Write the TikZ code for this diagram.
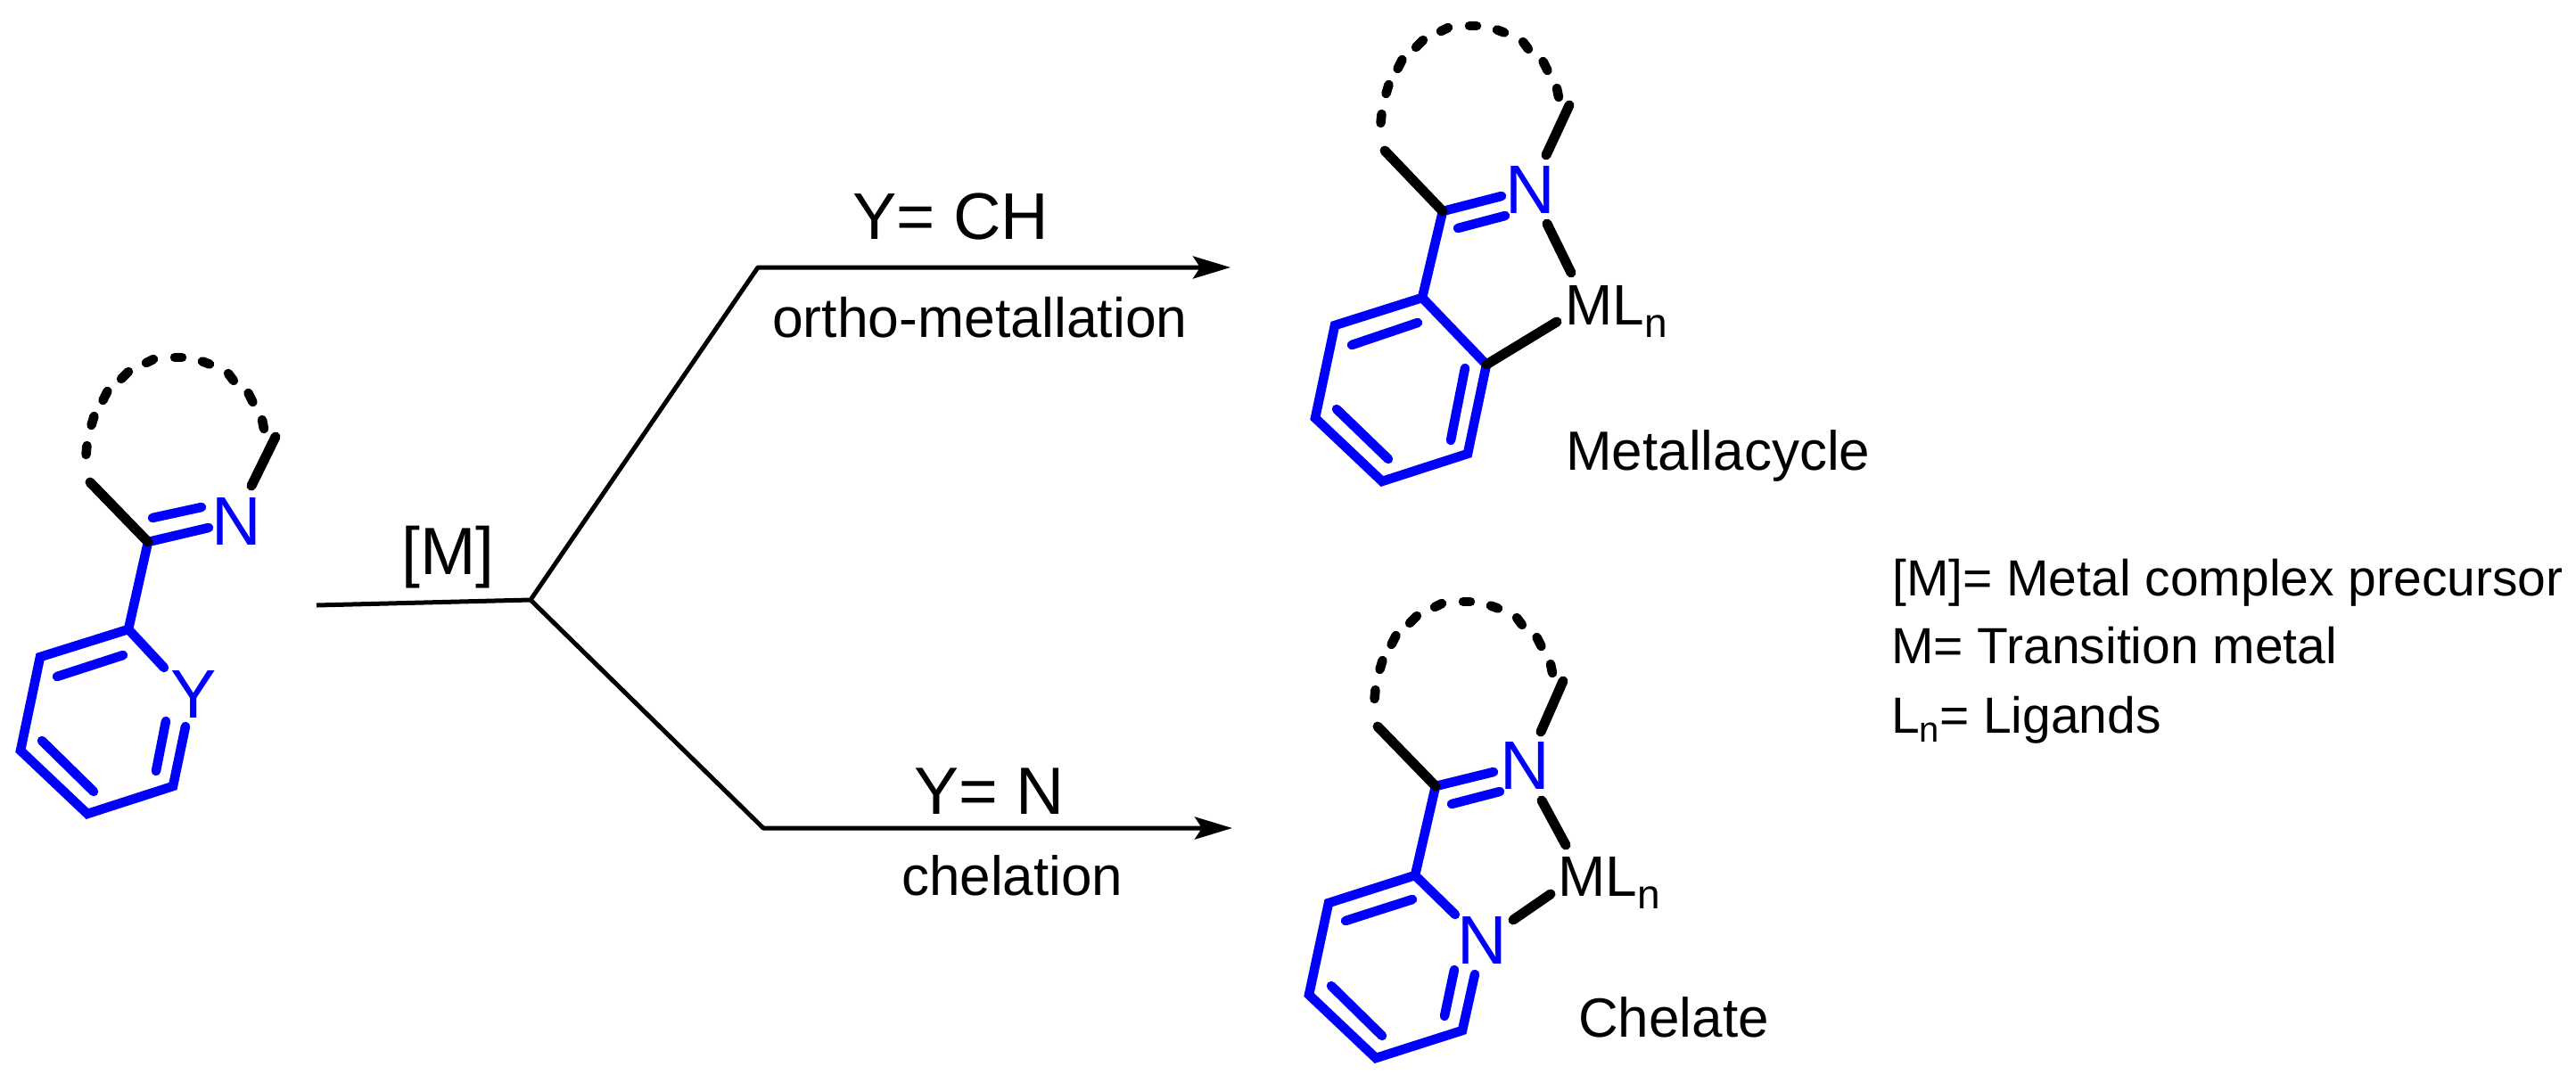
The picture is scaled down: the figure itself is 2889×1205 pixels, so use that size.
\documentclass[tikz,border=0pt]{standalone}
\usepackage{fontspec}
\setmainfont{Liberation Sans}
\usetikzlibrary{arrows.meta}
\newcommand{\fs}[1]{\fontsize{#1}{#1}\selectfont}
\newcommand{\mln}{ML\raisebox{-14pt}{\fs{46}n}}
\tikzset{
  bondblue/.style={draw=blue,line width=10.5pt,line cap=round,line join=miter},
  bondblack/.style={draw=black,line width=11pt,line cap=round},
  dotbit/.style={draw=black,line width=10.5pt,line cap=round},
  rxn/.style={draw=black,line width=5pt},
  rxnarrow/.style={rxn,-{Stealth[length=42pt,width=25pt,inset=8pt]}},
  atomblue/.style={text=blue,font=\fs{77},inner sep=0pt,anchor=center},
  lab/.style={inner sep=0pt,anchor=base west,text=black},
  pics/dotarc/.style={code={
    \draw[dotbit] (97.5,500)--(96.5,510);
    \draw[dotbit] (105.5,467)--(102.5,477);
    \draw[dotbit] (120.5,439)--(115.5,449);
    \draw[dotbit] (144,417)--(136,425);
    \draw[dotbit] (172,403)--(164,407);
    \draw[dotbit] (196,401)--(204,401);
    \draw[dotbit] (227,405.5)--(235,408.5);
    \draw[dotbit] (256,419)--(262,427);
    \draw[dotbit] (278.5,441)--(283.5,451);
    \draw[dotbit] (294,471)--(296,481);
  }}
}
\begin{document}
\begin{tikzpicture}[x=1pt,y=-1pt]
\useasboundingbox (0,0) rectangle (2889,1205);
% ---------- reaction lines
\coordinate (start) at (355,679);
\coordinate (fork) at (595,673);
\coordinate (upc) at (850,300);
\coordinate (uptip) at (1380,300);
\coordinate (loc) at (856,929);
\coordinate (lotip) at (1382,929);
\draw[rxn] (start)--(fork);
\draw[rxnarrow,line join=round] (fork)--(upc)--(uptip);
\draw[rxnarrow,line join=round] (fork)--(loc)--(lotip);
\node[lab,font=\fs{75}] (lm) at (450,644) {[M]};
\node[lab,font=\fs{74}] (ych) at (956,268) {Y= CH};
\node[lab,font=\fs{62.5}] (ortho) at (866,378) {ortho-metallation};
\node[lab,font=\fs{75}] (yn) at (1025,913) {Y= N};
\node[lab,font=\fs{62}] (chel) at (1011,1004) {chelation};
% ---------- starting material
\path (166,608) coordinate (aC) (101,541) coordinate (aT1) (309,490) coordinate (aT2)
  (282,545) coordinate (aN1) (234,592) coordinate (aD1) (171,581) coordinate (aD2) (226,569) coordinate (aD3)
  (144,706) coordinate (a1) (45,737) coordinate (a2) (23,842) coordinate (a3) (98,913) coordinate (a4)
  (194,882) coordinate (a5) (208,815) coordinate (a6) (184,749) coordinate (a7)
  (138,735) coordinate (aI1) (64,759) coordinate (aI2) (47,831) coordinate (aI3) (105,888) coordinate (aI4)
  (186,809) coordinate (aI5) (175,865) coordinate (aI6);
\draw[bondblue] (aC)--(aD1);
\draw[bondblue] (aD2)--(aD3);
\draw[bondblue] (aC)--(a1);
\draw[bondblue] (a7)--(a1)--(a2)--(a3)--(a4)--(a5)--(a6);
\draw[bondblue] (aI1)--(aI2);
\draw[bondblue] (aI3)--(aI4);
\draw[bondblue] (aI5)--(aI6);
\draw[bondblack] (aT1)--(aC);
\draw[bondblack] (aT2)--(aN1);
\pic at (0,0) {dotarc};
\node[atomblue] (aN) at (265,585) {N};
\node[atomblue] (aY) at (217,779) {Y};
% ---------- metallacycle
\path (1618,237) coordinate (bC) (1553,169) coordinate (bT1) (1760,118) coordinate (bT2)
  (1734,174) coordinate (bN1) (1735,251) coordinate (bN2) (1762,306) coordinate (bM1)
  (1684,220) coordinate (bD1) (1635,256) coordinate (bD2) (1688,242) coordinate (bD3)
  (1595,334) coordinate (b1) (1497,365) coordinate (b2) (1475,469) coordinate (b3) (1550,540) coordinate (b4)
  (1646,509) coordinate (b5) (1667,409) coordinate (b6)
  (1590,362) coordinate (bI1) (1516,387) coordinate (bI2) (1499,459) coordinate (bI3) (1557,515) coordinate (bI4)
  (1643,413) coordinate (bI5) (1627,494) coordinate (bI6) (1746,361) coordinate (bM2);
\draw[bondblue] (bC)--(bD1);
\draw[bondblue] (bD2)--(bD3);
\draw[bondblue] (bC)--(b1);
\draw[bondblue] (b1)--(b2)--(b3)--(b4)--(b5)--(b6)--cycle;
\draw[bondblue] (bI1)--(bI2);
\draw[bondblue] (bI3)--(bI4);
\draw[bondblue] (bI5)--(bI6);
\draw[bondblack] (bT1)--(bC);
\draw[bondblack] (bT2)--(bN1);
\draw[bondblack] (bN2)--(bM1);
\draw[bondblack] (b6)--(bM2);
\pic at (1452,-372) {dotarc};
\node[atomblue] (bN) at (1716,213) {N};
\node[lab,font=\fs{64}] (bML) at (1755,364) {\mln};
\node[lab,font=\fs{62}] (bName) at (1756,527) {Metallacycle};
% ---------- chelate
\path (1610,882) coordinate (cC) (1545,815) coordinate (cT1) (1753,764) coordinate (cT2)
  (1728,821) coordinate (cN1) (1729,898) coordinate (cN2) (1756,948) coordinate (cM1)
  (1675,866) coordinate (cD1) (1628,902) coordinate (cD2) (1682,888) coordinate (cD3)
  (1587,982) coordinate (c1) (1490,1013) coordinate (c2) (1468,1116) coordinate (c3) (1543,1187) coordinate (c4)
  (1640,1156) coordinate (c5) (1654,1093) coordinate (c6) (1632,1026) coordinate (c7)
  (1584,1009) coordinate (cI1) (1509,1033) coordinate (cI2) (1493,1106) coordinate (cI3) (1550,1162) coordinate (cI4)
  (1631,1088) coordinate (cI5) (1620,1140) coordinate (cI6)
  (1697,1032) coordinate (cM2) (1739,1003) coordinate (cM3);
\draw[bondblue] (cC)--(cD1);
\draw[bondblue] (cD2)--(cD3);
\draw[bondblue] (cC)--(c1);
\draw[bondblue] (c7)--(c1)--(c2)--(c3)--(c4)--(c5)--(c6);
\draw[bondblue] (cI1)--(cI2);
\draw[bondblue] (cI3)--(cI4);
\draw[bondblue] (cI5)--(cI6);
\draw[bondblack] (cT1)--(cC);
\draw[bondblack] (cT2)--(cN1);
\draw[bondblack] (cN2)--(cM1);
\draw[bondblack] (cM2)--(cM3);
\pic at (1445,274) {dotarc};
\node[atomblue] (cNa) at (1710,859) {N};
\node[atomblue] (cNb) at (1662,1055) {N};
\node[lab,font=\fs{64}] (cML) at (1747,1005) {\mln};
\node[lab,font=\fs{62}] (cName) at (1770,1163) {Chelate};
% ---------- legend
\node[lab,font=\fs{57}] (leg1) at (2122,668) {[M]= Metal complex precursor};
\node[lab,font=\fs{57}] (leg2) at (2121,744) {M= Transition metal};
\node[lab,font=\fs{57}] (leg3) at (2121,822) {L\raisebox{-10pt}{\fs{40}n}= Ligands};
\end{tikzpicture}
\end{document}
